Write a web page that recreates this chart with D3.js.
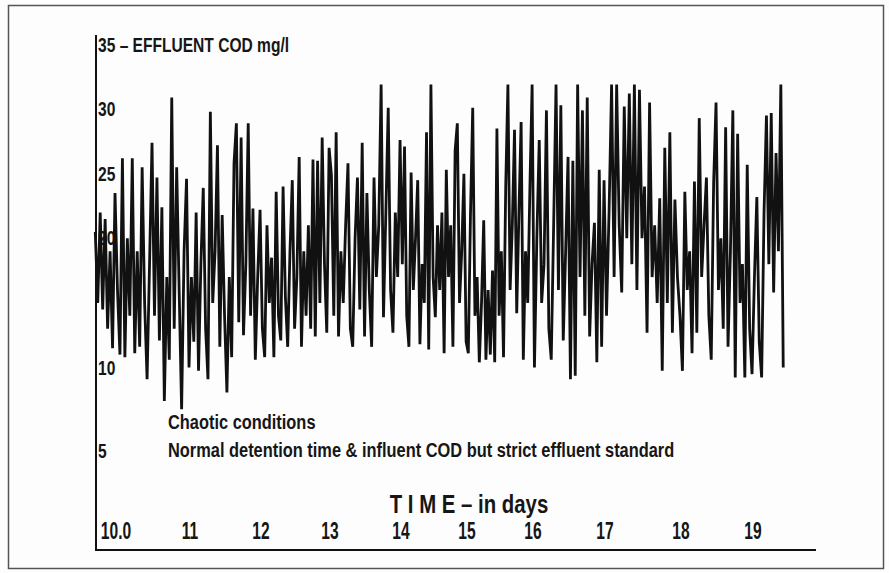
<!DOCTYPE html>
<html>
<head>
<meta charset="utf-8">
<title>Effluent COD</title>
<script src="https://cdn.jsdelivr.net/npm/d3@7"></script>
<style>
  body { margin: 0; background: #fff; }
  text {
    font-family: "Liberation Sans", Arial, sans-serif;
    font-weight: bold;
    fill: #161616;
  }
</style>
</head>
<body>
<div id="chart"></div>
<script>
// effluent COD (mg/l), one reading every 1/30 day from day 9.72
var startDay = 9.72;
var stepDay = 1 / 30;
var cod = [
  20.5, 15, 22, 14.5, 21.5, 13, 19, 11.5, 23.5,
  16, 11, 26.2, 10.8, 20, 14, 26.2, 11.1, 19, 11.6, 25.5, 15, 9.3, 18, 27.4,
  14, 24.7, 12.1, 22.4, 8, 17, 10.6, 30.9, 13, 25.5, 16, 7.5, 19, 24.6, 10,
  17, 12, 22, 9.8, 18, 23.9, 13, 9.3, 29.8, 15, 19, 27.2, 11.6, 21.8, 14,
  8.5, 17, 10.8, 25.8, 28.9, 13.5, 27.8, 12.5, 18, 28.9, 14, 22.3, 10.6, 17, 22.2,
  13, 10.8, 21, 15, 18.5, 10.8, 23.6, 14, 12.1, 24, 15.5, 11.6, 19, 24.5, 13,
  17, 26.3, 11.6, 19, 14, 21, 13, 26.1, 12.4, 26, 15, 27.8, 18, 12.7, 27,
  24.9, 14, 28.2, 12.4, 19, 15, 21, 25.8, 13, 11.6, 20, 24.7, 14.5, 27.4, 12.4,
  23.5, 16, 11.6, 24.7, 17, 21, 31.9, 13.9, 22, 30.1, 16, 12.7, 22, 17, 27.6,
  18, 27.1, 14, 11.6, 25.1, 16, 20, 24.5, 11.8, 18, 15, 28.2, 11.4, 31.9, 17,
  13.9, 21, 16, 22, 11.1, 25.3, 17, 21, 11.6, 26.8, 28.9, 15, 19, 25, 12,
  11.1, 22, 30.1, 14, 17, 10.4, 15, 21.4, 10.6, 16, 11, 17.5, 10.4, 28.5, 14,
  19, 10.8, 24, 31.9, 16, 21, 28.4, 14.2, 22, 29, 10.6, 19, 15, 24, 31.9,
  10, 20, 27.6, 15, 18, 29.9, 13, 10.6, 21, 31.9, 16, 30.3, 12.1, 19, 26.3,
  9.3, 26, 9.5, 31.9, 17, 29.9, 14, 30.9, 12.4, 18, 21.2, 10.4, 25.3, 11.6, 24.5,
  14, 22, 31.9, 17, 31.9, 21, 15.8, 30.2, 20, 31.2, 18, 31.9, 16, 31.5, 20,
  24, 12.7, 30.5, 17, 21, 15, 23.1, 9.8, 27, 15, 28.2, 12.7, 23, 17, 14,
  9.8, 23.6, 16, 19, 11.1, 24.4, 12.7, 29.3, 17, 21, 24.7, 14, 10.6, 24.3, 30.5,
  16, 20, 13, 28.6, 11.6, 19, 29.9, 9.4, 28.1, 15, 18, 9.4, 25.7, 13, 9.6,
  17, 23.2, 12, 9.4, 22, 29.5, 18, 29.7, 15.8, 26.6, 19, 31.9, 10
];

var xTicks = [10, 11, 12, 13, 14, 15, 16, 17, 18, 19];
var xTickLabels = ["10.0", "11", "12", "13", "14", "15", "16", "17", "18", "19"];
var yTicks = [35, 30, 25, 20, 10, 5];
var yTitle = " \u2013 EFFLUENT COD mg/l";
var xTitle = "T I M E \u2013 in days";
var notes = ["Chaotic conditions", "Normal detention time & influent COD but strict effluent standard"];

var width = 889, height = 573;

var svg = d3.select("#chart")
  .append("svg")
    .attr("width", width)
    .attr("height", height);

svg.append("rect")
  .attr("width", width)
  .attr("height", height)
  .attr("fill", "#fdfdfd");

// outer frame
svg.append("rect")
  .attr("x", 8.5)
  .attr("y", 5.5)
  .attr("width", 875)
  .attr("height", 563)
  .attr("fill", "none")
  .attr("stroke", "#555")
  .attr("stroke-width", 1.5);

// the scanned original is not evenly spaced, so the scales are piecewise
var x = d3.scaleLinear()
  .domain([9, 10, 11, 12, 13, 14, 15, 16, 17, 18, 19, 20])
  .range([42, 116, 190, 261, 330, 401, 467, 533, 605, 681, 753, 825]);

var y = d3.scaleLinear()
  .domain([5, 10, 35])
  .range([451, 367.5, 44.5]);

// narrow look: squeeze the text horizontally
function place(px, py, sy) {
  return "translate(" + px + "," + py + ") scale(0.82," + sy + ")";
}

// y labels (sit under the trace)
var yLab = svg.append("g")
  .selectAll("text")
  .data(yTicks)
  .enter()
  .append("text")
    .attr("transform", function (d) { return place(98, y(d) + 7, 1.05); })
    .style("font-size", "19px")
    .text(function (d) { return d; });

yLab.filter(function (d) { return d === 35; })
  .append("tspan")
  .text(yTitle);

// trace
var line = d3.line()
  .x(function (d, i) { return x(startDay + i * stepDay); })
  .y(function (d) { return y(d); });

svg.append("path")
  .datum(cod)
  .attr("d", line)
  .attr("fill", "none")
  .attr("stroke", "#111")
  .attr("stroke-width", 2.8)
  .attr("stroke-linejoin", "miter")
  .attr("stroke-miterlimit", 2);

// axes
svg.append("line")
  .attr("x1", 96).attr("x2", 96)
  .attr("y1", 35).attr("y2", 551)
  .attr("stroke", "#111")
  .attr("stroke-width", 2);

svg.append("line")
  .attr("x1", 95).attr("x2", 816)
  .attr("y1", 550).attr("y2", 550)
  .attr("stroke", "#111")
  .attr("stroke-width", 2);

svg.append("g")
  .selectAll("text")
  .data(xTicks)
  .enter()
  .append("text")
    .attr("transform", function (d) { return place(x(d), 539, 1.28); })
    .attr("text-anchor", "middle")
    .style("font-size", "19px")
    .text(function (d, i) { return xTickLabels[i]; });

svg.append("text")
  .attr("transform", "translate(469,513) scale(0.85,1.05)")
  .attr("text-anchor", "middle")
  .style("font-size", "24px")
  .text(xTitle);

svg.append("g")
  .selectAll("text")
  .data(notes)
  .enter()
  .append("text")
    .attr("transform", function (d, i) { return place(168, 429 + i * 28, 1.05); })
    .style("font-size", "20px")
    .text(function (d) { return d; });
</script>
</body>
</html>
